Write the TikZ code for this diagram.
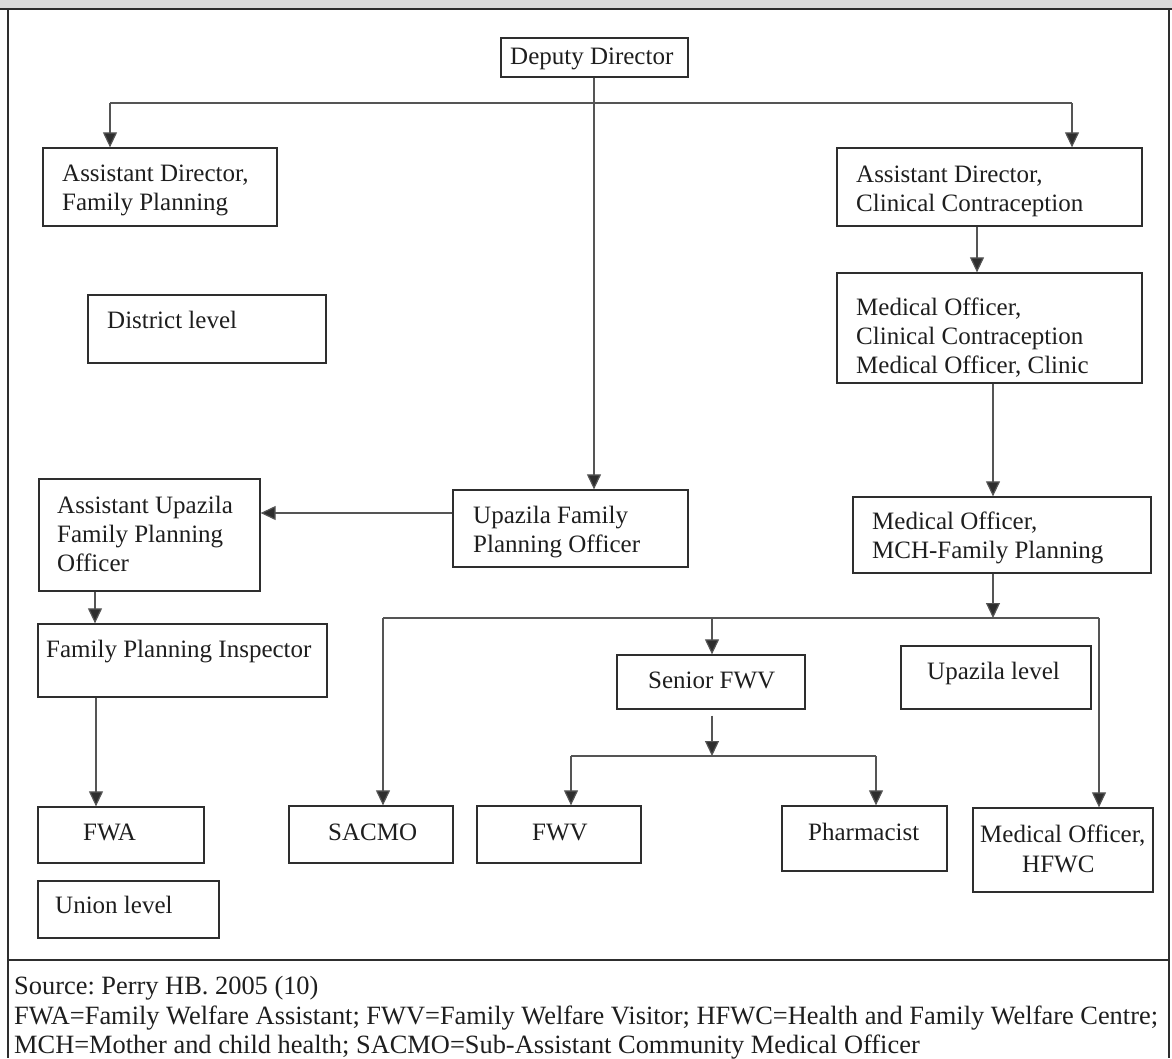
\documentclass[tikz,border=0pt]{standalone}
\usepackage{fontspec}
\setmainfont{Liberation Serif}
\usetikzlibrary{arrows.meta,fit}
\definecolor{boxc}{HTML}{2E2E2E}
\definecolor{linec}{HTML}{555555}
\definecolor{bandc}{HTML}{DCDCDC}
\definecolor{txtc}{HTML}{1E1E1E}
\frenchspacing
\tikzset{
  box/.style={draw=boxc, line width=1.3pt, inner sep=0pt, fit={#1}},
  txt/.style={inner sep=0pt, anchor=base west, text=txtc,
    font=\fontsize{25}{29}\selectfont},
  foot/.style={inner sep=0pt, anchor=base west, text=txtc,
    font=\fontsize{26.4}{30}\selectfont},
  conn/.style={draw=linec, line width=1.2pt},
  arr/.style={conn, -{Triangle[length=15pt,width=14pt,fill=boxc]}},
  frame/.style={draw=boxc, line width=1.3pt}
}
\newcommand\myline[1]{\hbox{#1}}
\begin{document}
\begin{tikzpicture}[x=1pt,y=-1pt]
\useasboundingbox (0,0) rectangle (1172,1058);
% header band and frame
\fill[bandc] (0,0) rectangle (1172,9);
\draw[frame] (0,9) -- (1172,9);
\draw[frame] (8,9) -- (8,1058);
\draw[frame] (1169,9) -- (1169,1058);
\draw[frame] (8,960) -- (1169,960);

% boxes
\node[box={(501,38)(688,77)}] (dd) {};
\node[box={(43,148)(277,226)}] (adfp) {};
\node[box={(88,295)(326,363)}] (dist) {};
\node[box={(837,148)(1142,226)}] (adcc) {};
\node[box={(837,273)(1142,383)}] (mocc) {};
\node[box={(453,490)(688,567)}] (ufpo) {};
\node[box={(39,479)(260,591)}] (aufpo) {};
\node[box={(853,497)(1151,573)}] (momch) {};
\node[box={(38,624)(327,697)}] (fpi) {};
\node[box={(617,655)(805,709)}] (sfwv) {};
\node[box={(901,646)(1091,709)}] (uplev) {};
\node[box={(38,807)(204,863)}] (fwa) {};
\node[box={(289,806)(453,863)}] (sacmo) {};
\node[box={(477,806)(641,863)}] (fwv) {};
\node[box={(782,806)(947,871)}] (pharm) {};
\node[box={(973,808)(1153,892)}] (mohfwc) {};
\node[box={(38,881)(219,938)}] (union) {};

% texts
\node[txt] (dd-t) at (510,64) {Deputy Director};
\node[txt] (adfp-t) at (62,181) {\vtop{\myline{Assistant Director,}\myline{Family Planning}}};
\node[txt] (dist-t) at (107,328) {District level};
\node[txt] (adcc-t) at (856,182) {\vtop{\myline{Assistant Director,}\myline{Clinical Contraception}}};
\node[txt] (mocc-t) at (856,315) {\vtop{\myline{Medical Officer,}\myline{Clinical Contraception}\myline{Medical Officer, Clinic}}};
\node[txt] (ufpo-t) at (473,523) {\vtop{\myline{Upazila Family}\myline{Planning Officer}}};
\node[txt] (aufpo-t) at (57,513) {\vtop{\myline{Assistant Upazila}\myline{Family Planning}\myline{Officer}}};
\node[txt] (momch-t) at (872,529) {\vtop{\myline{Medical Officer,}\myline{MCH-Family Planning}}};
\node[txt] (fpi-t) at (46,657) {Family Planning Inspector};
\node[txt] (sfwv-t) at (648,688) {Senior FWV};
\node[txt] (uplev-t) at (927,679) {Upazila level};
\node[txt] (fwa-t) at (83,840) {FWA};
\node[txt] (sacmo-t) at (328,840) {SACMO};
\node[txt] (fwv-t) at (532,840) {FWV};
\node[txt] (pharm-t) at (808,840) {Pharmacist};
\node[txt] (mohfwc-t1) at (980,842) {Medical Officer,};
\node[txt] (mohfwc-t2) at (1022,872) {HFWC};
\node[txt] (union-t) at (55,913) {Union level};

% footer
\node[foot] (src) at (14,994) {Source: Perry HB. 2005 (10)};
\node[foot] (ab1) at (14,1024) {FWA=Family Welfare Assistant; FWV=Family Welfare Visitor; HFWC=Health and Family Welfare Centre;};
\node[foot] (ab2) at (14,1053) {MCH=Mother and child health; SACMO=Sub-Assistant Community Medical Officer};

% connectors
\coordinate (j1) at (594,103);
\coordinate (bl) at (110,103);
\coordinate (br) at (1072,103);
\draw[conn] (bl) -- (br);
\draw[conn] (dd.south -| j1) -- (j1);
\draw[arr] (bl) -- (bl |- adfp.north);
\draw[arr] (br) -- (br |- adcc.north);
\draw[arr] (j1) -- (j1 |- ufpo.north);

\coordinate (a1) at (977,0);
\draw[arr] (adcc.south -| a1) -- (mocc.north -| a1);
\coordinate (a2) at (993,0);
\draw[arr] (mocc.south -| a2) -- (momch.north -| a2);
\coordinate (a3) at (0,513);
\draw[arr] (ufpo.west |- a3) -- (aufpo.east |- a3);
\coordinate (a4) at (95,0);
\draw[arr] (aufpo.south -| a4) -- (fpi.north -| a4);
\coordinate (a5) at (96,0);
\draw[arr] (fpi.south -| a5) -- (fwa.north -| a5);

\coordinate (h1l) at (383,618);
\coordinate (h1r) at (1099,618);
\coordinate (h1m) at (993,618);
\coordinate (h1s) at (712,618);
\draw[arr] (momch.south -| h1m) -- (h1m);
\draw[conn] (h1l) -- (h1r);
\draw[arr] (h1l) -- (h1l |- sacmo.north);
\draw[arr] (h1r) -- (h1r |- mohfwc.north);
\draw[arr] (h1s) -- (h1s |- sfwv.north);

\coordinate (h2m) at (712,756);
\coordinate (h2l) at (571,756);
\coordinate (h2r) at (876,756);
\draw[arr] ([yshift=-6pt]sfwv.south -| h2m) -- (h2m);
\draw[conn] (h2l) -- (h2r);
\draw[arr] (h2l) -- (h2l |- fwv.north);
\draw[arr] (h2r) -- (h2r |- pharm.north);
\end{tikzpicture}
\end{document}
